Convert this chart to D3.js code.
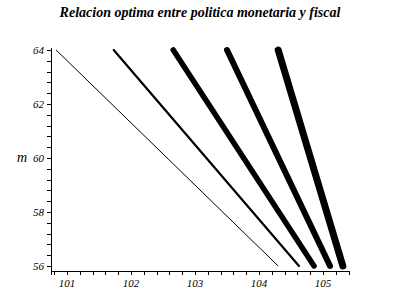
<!DOCTYPE html>
<html><head><meta charset="utf-8">
<script src="https://cdn.jsdelivr.net/npm/d3@7"></script>
<style>html,body{margin:0;padding:0;background:#fff;}svg{display:block;}
.serif{font-family:'Liberation Serif','DejaVu Serif','Times New Roman',serif;font-style:italic;}</style>
</head><body>
<script>
// Data: each curve from m=64 (top) to m=56 (bottom)
const mValues = [64, 56];
const xAtTop = [100.83, 101.73, 102.66, 103.50, 104.30];
const xAtBottom = [104.30, 104.625, 104.86, 105.11, 105.31];
const lineWidths = [1, 2.2, 5.5, 6, 7];
const xTickLabels = [101, 102, 103, 104, 105];
const yTickLabels = [56, 58, 60, 62, 64];

const W = 400, H = 300;
const svg = d3.select("body").append("svg").attr("width", W).attr("height", H);

const x = d3.scaleLinear().domain([101, 105]).range([67, 323]);
const y = d3.scaleLinear().domain([56, 64]).range([266, 50]);

const axisY = 271, axisX = 51;

// x axis
svg.append("line").attr("x1", axisX).attr("x2", 349).attr("y1", axisY + 0.5).attr("y2", axisY + 0.5)
  .attr("stroke", "#000").attr("stroke-width", 1);
const xMinor = d3.range(100.8, 105.41, 0.2);
svg.selectAll(".xt").data(xMinor).enter().append("line")
  .attr("x1", d => Math.round(x(d)) + 0.5).attr("x2", d => Math.round(x(d)) + 0.5)
  .attr("y1", axisY).attr("y2", axisY + 4).attr("stroke", "#000").attr("stroke-width", 1);
svg.selectAll(".xl").data(xTickLabels).enter().append("text").attr("class", "serif")
  .attr("x", d => x(d)).attr("y", 287).attr("text-anchor", "middle")
  .attr("font-size", 11).text(d => d);

// y axis
svg.append("line").attr("x1", axisX + 0.5).attr("x2", axisX + 0.5).attr("y1", y(64.07)).attr("y2", axisY + 4)
  .attr("stroke", "#000").attr("stroke-width", 1);
const yMinor = d3.range(56, 64.01, 0.4);
svg.selectAll(".yt").data(yMinor).enter().append("line")
  .attr("x1", axisX - 4).attr("x2", axisX)
  .attr("y1", d => Math.round(y(d)) + 0.5).attr("y2", d => Math.round(y(d)) + 0.5)
  .attr("stroke", "#000").attr("stroke-width", 1);
svg.selectAll(".yl").data(yTickLabels).enter().append("text").attr("class", "serif")
  .attr("x", 44).attr("y", d => y(d) + 4).attr("text-anchor", "end")
  .attr("font-size", 11).text(d => d);

svg.append("text").attr("class", "serif").attr("x", 22).attr("y", 162).attr("text-anchor", "middle")
  .attr("font-size", 14).text("m");

// title
svg.append("text").attr("class", "serif").attr("x", 200).attr("y", 17).attr("text-anchor", "middle")
  .attr("font-weight", "bold").attr("font-size", 14).text("Relacion optima entre politica monetaria y fiscal");

// curves
const line = d3.line().x(d => x(d[0])).y(d => y(d[1]));
xAtTop.forEach((xt, i) => {
  const pts = [[xt, mValues[0]], [xAtBottom[i], mValues[1]]];
  svg.append("path").attr("d", line(pts)).attr("fill", "none").attr("stroke", "#000")
    .attr("stroke-width", lineWidths[i]).attr("stroke-linecap", i < 1 ? "butt" : "round");
});
</script>
</body></html>
